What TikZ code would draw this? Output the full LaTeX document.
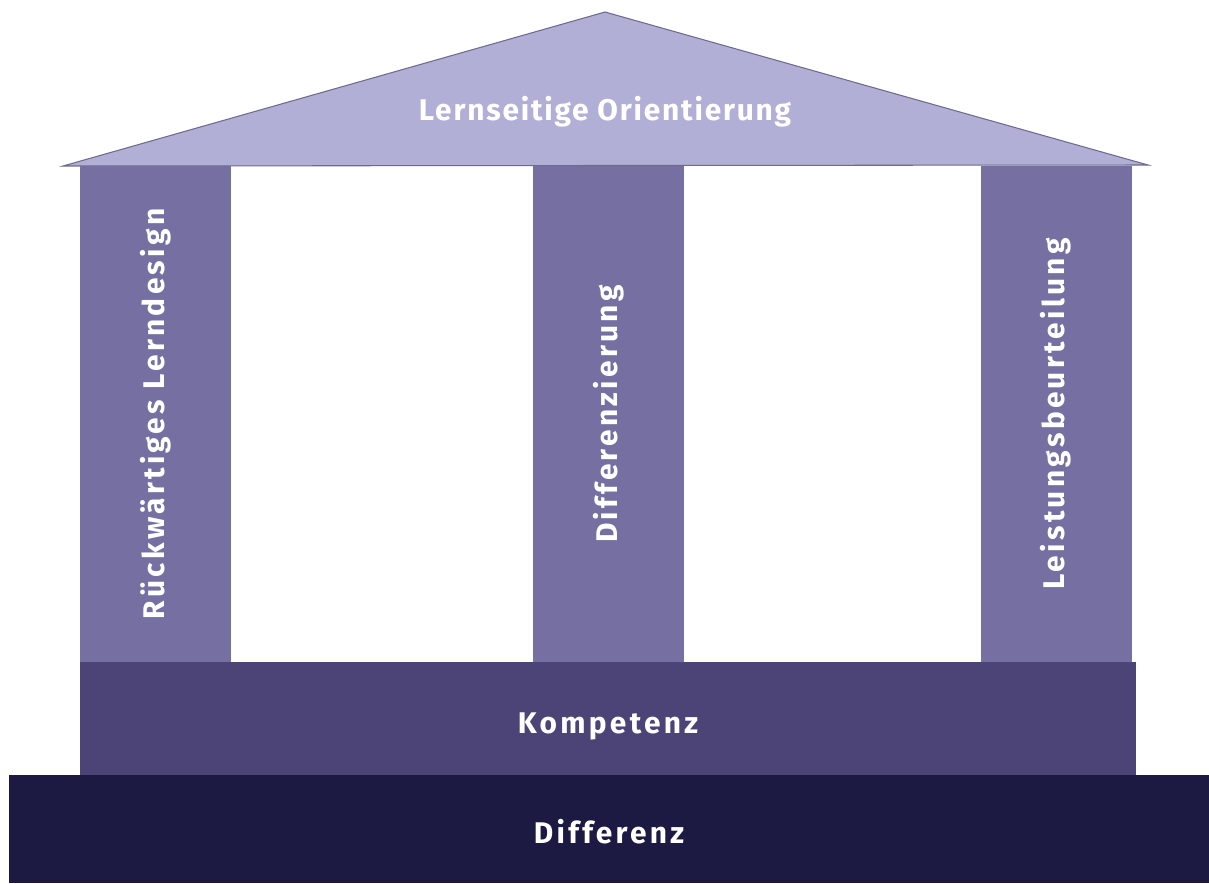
\documentclass[tikz,border=0pt]{standalone}
\usepackage{fontspec}
\newfontfamily\tempelfont{Fira Sans}[LetterSpace=6]
\newfontfamily\tempelweit{Fira Sans}[LetterSpace=11]
\usepackage{tikz}
\usetikzlibrary{positioning}
\definecolor{dachfarbe}{RGB}{178,175,214}
\definecolor{dachrand}{RGB}{110,106,140}
\definecolor{saeulenfarbe}{RGB}{118,112,162}
\definecolor{kompfarbe}{RGB}{76,68,118}
\definecolor{difffarbe}{RGB}{28,26,66}

\begin{document}
\begin{tikzpicture}[
  x=0.02cm, y=-0.02cm,
  blk/.style   = {rectangle, inner sep=0pt, text=white,
                  font=\tempelweit\bfseries\fontsize{17}{20}\selectfont},
  saeule/.style = {blk, fill=saeulenfarbe, rotate=90,
                   minimum width=9.92cm, minimum height=3.02cm},
  sockel/.style = {blk, fill=kompfarbe, minimum width=21.12cm, minimum height=2.26cm,
                   text height=0.72cm, text depth=0.14cm},
  boden/.style  = {blk, fill=difffarbe, minimum width=24cm, minimum height=2.16cm,
                   text height=0.72cm, text depth=0.14cm}
]
\useasboundingbox (0,0) rectangle (1209,883);

% Dach
\filldraw[fill=dachfarbe, draw=dachrand, line width=0.6pt]
  (63,166) -- (605,12) -- (1148,165) -- cycle;
\node[blk, font=\tempelfont\bfseries\fontsize{17}{20}\selectfont] (dach)
  at (605,112) {Lernseitige Orientierung};

% Saeulen
\node[saeule] (links)  at (155.5,414) {R\"uckw\"artiges Lerndesign};
\node[saeule] (mitte)  at (608.5,414) {Differenzierung};
\node[saeule] (rechts) at (1056,414)  {Leistungsbeurteilung};

% Sockel und Boden
\node[sockel] (kompetenz) at (608,718.5) {Kompetenz};
\node[boden]  (differenz) at (609,829)   {Differenz};

\end{tikzpicture}
\end{document}
